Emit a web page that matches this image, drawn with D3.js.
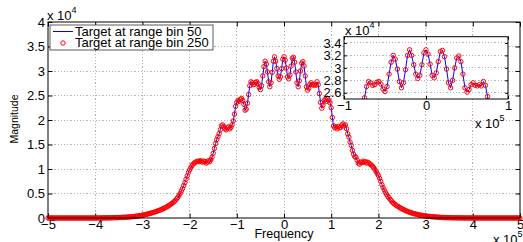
<!DOCTYPE html>
<html><head><meta charset="utf-8">
<script src="https://cdn.jsdelivr.net/npm/d3@7"></script>
<style>
body{margin:0;background:#fff}
svg{display:block}
text{font-family:"Liberation Sans",Arial,Helvetica,sans-serif;fill:#000}
</style>
</head><body>
<svg id="c" width="523" height="242"></svg>
<script>
// Frequency bins: from -5e5 Hz in steps of 2500 Hz (values in units of 1e5 Hz)
const freqStart = -5, freqStep = 0.025;
// Magnitude (units of 1e4), 401 bins
const bin50 = [
 0,0,0,0,0,0,0,0,0,0,
 0,0,0,0,0,0,0,0,0,0,
 0,0,0,0,0,0,0,0,0,0,
 0,0,0,0,0,0,0,0,0,0,
 0.001,0.001,0.001,0.001,0.001,0.002,0.002,0.002,0.002,0.003,
 0.003,0.003,0.004,0.004,0.005,0.005,0.006,0.006,0.007,0.008,
 0.009,0.010,0.011,0.012,0.013,0.015,0.016,0.018,0.020,0.022,
 0.024,0.026,0.029,0.031,0.034,0.037,0.041,0.044,0.048,0.052,
 0.057,0.062,0.067,0.072,0.078,0.084,0.090,0.097,0.104,0.111,
 0.119,0.127,0.135,0.144,0.153,0.163,0.173,0.184,0.195,0.207,
 0.220,0.233,0.247,0.262,0.278,0.296,0.316,0.338,0.362,0.390,
 0.42,0.46,0.50,0.55,0.60,0.66,0.72,0.79,0.86,0.93,
 0.98,1.03,1.07,1.10,1.12,1.14,1.15,1.16,1.15,1.17,
 1.16,1.14,1.16,1.15,1.12,1.14,1.17,1.15,1.19,1.24,
 1.32,1.42,1.52,1.60,1.66,1.72,1.80,1.88,1.90,1.86,
 1.82,1.80,1.84,1.86,1.82,1.85,1.90,1.98,2.12,2.28,
 2.36,2.40,2.38,2.42,2.44,2.40,2.32,2.20,2.22,2.34,
 2.52,2.70,2.78,2.76,2.72,2.73,2.77,2.78,2.74,2.66,
 2.62,2.70,2.90,3.09,3.20,3.14,2.98,2.78,2.68,2.76,
 2.97,3.20,3.29,3.20,3.05,2.90,2.83,2.88,3.05,3.24,
 3.29,3.22,3.06,2.88,2.84,2.92,3.10,3.26,3.28,3.18,
 2.98,2.76,2.68,2.80,3.00,3.16,3.19,3.10,2.90,2.68,
 2.61,2.65,2.73,2.76,2.72,2.71,2.73,2.71,2.78,2.72,
 2.54,2.36,2.24,2.30,2.40,2.42,2.38,2.43,2.40,2.35,
 2.25,2.05,1.88,1.84,1.86,1.82,1.87,1.84,1.85,1.90,
 1.92,1.88,1.90,1.82,1.72,1.65,1.55,1.48,1.38,1.30,
 1.25,1.24,1.18,1.12,1.10,1.14,1.13,1.16,1.14,1.15,
 1.12,1.14,1.12,1.10,1.08,1.06,1.03,0.99,0.95,0.91,
 0.87,0.81,0.75,0.68,0.62,0.57,0.52,0.48,0.44,0.41,
 0.38,0.35,0.32,0.30,0.28,0.26,0.245,0.23,0.215,0.20,
 0.187,0.175,0.163,0.152,0.141,0.131,0.122,0.113,0.105,0.097,
 0.090,0.084,0.078,0.072,0.067,0.062,0.057,0.053,0.049,0.045,
 0.041,0.038,0.035,0.032,0.029,0.027,0.025,0.023,0.021,0.019,
 0.017,0.015,0.014,0.012,0.011,0.010,0.009,0.008,0.007,0.006,
 0.006,0.005,0.005,0.004,0.004,0.003,0.003,0.003,0.002,0.002,
 0.002,0.002,0.001,0.001,0.001,0.001,0.001,0.001,0,0,
 0,0,0,0,0,0,0,0,0,0,
 0,0,0,0,0,0,0,0,0,0,
 0,0,0,0,0,0,0,0,0,0,
 0,0,0,0,0,0,0,0,0,0,
 0
];
// The second target's spectrum coincides with the first in the picture
const bin250 = bin50.slice();

const xTicks = [-5,-4,-3,-2,-1,0,1,2,3,4,5];
const yTicks = [0,0.5,1,1.5,2,2.5,3,3.5,4];
const insetXTicks = [-1,0,1];
const insetYTicks = [2.6,2.8,3,3.2,3.4];
const legendLabels = ["Target at range bin 50","Target at range bin 250"];
const xExpMain = "5", yExpMain = "4";

const freqs = bin50.map((_, i) => freqStart + i * freqStep);
const s50 = freqs.map((f, i) => [f, bin50[i]]);
const s250 = freqs.map((f, i) => [f, bin250[i]]);

const svg = d3.select("#c");
const BLUE = "#0000ff", RED = "#ff0000", GRID = "#b4b4b4";

function drawAxes(g, x, y, xt, yt, tick, fs, xpad, ypad, clipId) {
  const [x0, x1] = x.range(), [y0, y1] = y.range();
  // background
  g.append("rect").attr("x", x0).attr("y", y1).attr("width", x1 - x0).attr("height", y0 - y1).attr("fill", "#fff");
  // grid
  g.append("g").selectAll("line").data(xt.filter(t => t !== x.domain()[0] && t !== x.domain()[1])).join("line")
    .attr("x1", d => x(d)).attr("x2", d => x(d)).attr("y1", y0).attr("y2", y1)
    .attr("stroke", GRID).attr("stroke-dasharray", "1.2,2").attr("stroke-width", 1).attr("shape-rendering", "crispEdges");
  g.append("g").selectAll("line").data(yt.filter(t => t !== y.domain()[0] && t !== y.domain()[1])).join("line")
    .attr("y1", d => y(d)).attr("y2", d => y(d)).attr("x1", x0).attr("x2", x1)
    .attr("stroke", GRID).attr("stroke-dasharray", "1.2,2").attr("stroke-width", 1).attr("shape-rendering", "crispEdges");
  // axes with inward ticks
  const ax = g.append("g").attr("transform", `translate(0,${y0})`)
    .call(d3.axisBottom(x).tickValues(xt).tickSize(-tick).tickPadding(xpad).tickFormat(d3.format("")));
  const axT = g.append("g").attr("transform", `translate(0,${y1})`)
    .call(d3.axisTop(x).tickValues(xt).tickSize(-tick).tickFormat(""));
  const ay = g.append("g").attr("transform", `translate(${x0},0)`)
    .call(d3.axisLeft(y).tickValues(yt).tickSize(-tick).tickPadding(ypad).tickFormat(d3.format("")));
  const ayR = g.append("g").attr("transform", `translate(${x1},0)`)
    .call(d3.axisRight(y).tickValues(yt).tickSize(-tick).tickFormat(""));
  [ax, axT, ay, ayR].forEach(a => {
    a.select(".domain").remove();
    a.selectAll("line").attr("stroke", "#000");
    a.selectAll("text").attr("font-size", fs).attr("font-family", '"Liberation Sans",Arial,sans-serif').attr("fill", "#000");
  });
  return g;
}

// ---------- main axes ----------
const x = d3.scaleLinear().domain([-5, 5]).range([48, 520]);
const y = d3.scaleLinear().domain([0, 4]).range([218, 22]);
const main = svg.append("g");
drawAxes(main, x, y, xTicks, yTicks, 4.5, 13, 1.5, 3);

const line = d3.line().x(d => x(d[0])).y(d => y(d[1]));
main.append("path").datum(s50).attr("d", line).attr("fill", "none").attr("stroke", BLUE).attr("stroke-width", 1);
main.append("g").selectAll("circle").data(s250).join("circle")
  .attr("cx", d => x(d[0])).attr("cy", d => y(d[1])).attr("r", 2.2)
  .attr("fill", "none").attr("stroke", RED).attr("stroke-width", 1);
main.append("rect").attr("x", 48).attr("y", 22).attr("width", 472).attr("height", 196)
  .attr("fill", "none").attr("stroke", "#000").attr("stroke-width", 1);

// exponent labels
function expLabel(px, py, base, exp) {
  const t = svg.append("text").attr("x", px).attr("y", py).attr("font-size", 13);
  t.append("tspan").text(base);
  t.append("tspan").attr("font-size", 9).attr("dy", -7).text(exp);
}
expLabel(47, 20, "x 10", yExpMain);
expLabel(493, 243.5, "x 10", xExpMain);

// axis labels
svg.append("text").attr("x", 284).attr("y", 238).attr("text-anchor", "middle").attr("font-size", 12.5).text("Frequency");
svg.append("text").attr("transform", "translate(18,119) rotate(-90)").attr("text-anchor", "middle").attr("font-size", 10.5).text("Magnitude");

// ---------- legend ----------
const lg = svg.append("g");
lg.append("rect").attr("x", 50).attr("y", 25).attr("width", 163).attr("height", 25)
  .attr("fill", "#fff").attr("stroke", "#333").attr("stroke-width", 0.8);
lg.append("line").attr("x1", 53).attr("x2", 73).attr("y1", 31.5).attr("y2", 31.5).attr("stroke", BLUE).attr("stroke-width", 1);
lg.append("circle").attr("cx", 63).attr("cy", 43).attr("r", 2.2).attr("fill", "none").attr("stroke", RED).attr("stroke-width", 1);
lg.selectAll("text.lt").data(legendLabels).join("text").attr("class", "lt")
  .attr("x", 75).attr("y", (d, i) => 35.8 + i * 11.5).attr("font-size", 13).text(d => d);

// ---------- inset ----------
const xi = d3.scaleLinear().domain([-1, 1]).range([344, 508]);
const yi = d3.scaleLinear().domain([2.5, 3.5]).range([99, 36.7]);
const inset = svg.append("g");
drawAxes(inset, xi, yi, insetXTicks, insetYTicks, 3, 13, 1.5, 2.5);
svg.append("defs").append("clipPath").attr("id", "ic").append("rect")
  .attr("x", 344).attr("y", 36.7).attr("width", 164).attr("height", 62.3);
const lineI = d3.line().x(d => xi(d[0])).y(d => yi(d[1]));
const ig = inset.append("g").attr("clip-path", "url(#ic)");
ig.append("path").datum(s50).attr("d", lineI).attr("fill", "none").attr("stroke", BLUE).attr("stroke-width", 1);
ig.append("g").selectAll("circle").data(s250.filter(d => d[0] >= -1 && d[0] <= 1)).join("circle")
  .attr("cx", d => xi(d[0])).attr("cy", d => yi(d[1])).attr("r", 2.2)
  .attr("fill", "none").attr("stroke", RED).attr("stroke-width", 1);
inset.append("rect").attr("x", 344).attr("y", 36.7).attr("width", 164).attr("height", 62.3)
  .attr("fill", "none").attr("stroke", "#000").attr("stroke-width", 1);
expLabel(345, 35, "x 10", yExpMain);
expLabel(475, 127.5, "x 10", xExpMain);
</script>
</body></html>
